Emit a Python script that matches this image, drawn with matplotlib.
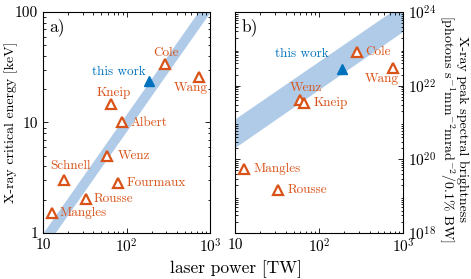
import matplotlib
matplotlib.use("Agg")
import matplotlib.pyplot as plt
from matplotlib.ticker import LogLocator, NullFormatter

plt.rcParams["font.family"] = "serif"
plt.rcParams["font.serif"] = ["cmr10"]
plt.rcParams["mathtext.fontset"] = "cm"
plt.rcParams["axes.formatter.use_mathtext"] = True

ORANGE = "#D95319"
BLUE = "#0072BD"
BAND = "#b0cbe8"

# panel a: critical energy
names_a = ["Cole", "Wang", "Kneip", "Albert", "Wenz", "Schnell", "Fourmaux", "Rousse", "Mangles"]
power_a = [289, 745, 66, 88, 59, 17.8, 79, 32.7, 12.7]
energy_a = [33.6, 25.6, 14.8, 10.0, 5.0, 3.0, 2.85, 2.03, 1.53]
this_power_a = 186
this_energy_a = 23.8
band_power = [10, 1000]
band_a_low = [0.70, 100]
band_a_high = [1.0, 143]

# panel b: peak brightness
names_b = ["Cole", "Wang", "Wenz", "Kneip", "Mangles", "Rousse"]
power_b = [285, 751, 58.7, 66.7, 12.8, 32.9]
bright_b = [8.3e22, 3.0e22, 4.2e21, 3.4e21, 5.5e19, 1.5e19]
this_power_b = 188
this_bright_b = 2.9e22
band_b_low = [2.1e20, 3.0e23]
band_b_high = [1.26e21, 1.7e24]

# label offsets in pixels (dx, dy, ha)
offsets_a = {
    "Cole": (1, 11, "center"),
    "Wang": (-9, -11, "center"),
    "Kneip": (2, 11, "center"),
    "Albert": (9, 0, "left"),
    "Wenz": (10, 0, "left"),
    "Schnell": (7, 14, "center"),
    "Fourmaux": (9, 0, "left"),
    "Rousse": (8, 0, "left"),
    "Mangles": (8, 0, "left"),
}
offsets_b = {
    "Cole": (8, 0, "left"),
    "Wang": (-11, -11, "center"),
    "Wenz": (6, 12, "center"),
    "Kneip": (9, 0, "left"),
    "Mangles": (9, 0, "left"),
    "Rousse": (9, 0, "left"),
}

fig = plt.figure(figsize=(4.71, 2.79), dpi=100)
ax_a = fig.add_axes([0.0913, 0.165, 0.3546, 0.792])
ax_b = fig.add_axes([0.499, 0.165, 0.3567, 0.792])


def style(ax):
    ax.set_xscale("log")
    ax.set_yscale("log")
    ax.set_xlim(10, 1000)
    ax.set_xticks([10, 100, 1000])
    ax.set_xticklabels(["10", "$10^2$", "$10^3$"])
    ax.xaxis.set_minor_locator(LogLocator(base=10, subs=range(2, 10)))
    ax.xaxis.set_minor_formatter(NullFormatter())
    ax.yaxis.set_minor_locator(LogLocator(base=10, subs=range(2, 10), numticks=20))
    ax.yaxis.set_minor_formatter(NullFormatter())
    ax.tick_params(which="both", direction="in", top=True, right=True, labelsize=11, width=0.6)
    ax.tick_params(which="major", length=3.5)
    ax.tick_params(which="minor", length=1.8)
    for spine in ax.spines.values():
        spine.set_linewidth(0.8)


def draw_points(ax, names, xs, ys, offsets):
    ax.plot(xs, ys, linestyle="none", marker="^", markersize=6.5, markerfacecolor="white",
            markeredgecolor=ORANGE, markeredgewidth=1.6, zorder=3)
    for name, x, y in zip(names, xs, ys):
        dx, dy, ha = offsets[name]
        ax.annotate(name, (x, y), xytext=(dx, dy), textcoords="offset pixels",
                    ha=ha, va="center", color=ORANGE, fontsize=9.5)


# panel a
style(ax_a)
ax_a.set_ylim(1, 100)
ax_a.set_yticks([1, 10, 100])
ax_a.set_yticklabels(["1", "10", "100"])
ax_a.fill_between(band_power, band_a_low, band_a_high, color=BAND, linewidth=0, zorder=1)
draw_points(ax_a, names_a, power_a, energy_a, offsets_a)
ax_a.plot([this_power_a], [this_energy_a], linestyle="none", marker="^", markersize=7,
          color=BLUE, zorder=4)
ax_a.annotate("this work", (this_power_a, this_energy_a), xytext=(-3, 9),
              textcoords="offset pixels", ha="right", va="center", color=BLUE, fontsize=9.5)
ax_a.text(0.04, 0.93, "a)", transform=ax_a.transAxes, fontsize=12.5, va="center")
ax_a.set_ylabel("X-ray critical energy [keV]", fontsize=10, va="center")
ax_a.yaxis.set_label_coords(-0.19, 0.5)

# panel b
style(ax_b)
ax_b.set_ylim(1e18, 1e24)
ax_b.set_yticks([1e18, 1e20, 1e22, 1e24])
ax_b.set_yticklabels(["$10^{18}$", "$10^{20}$", "$10^{22}$", "$10^{24}$"])
ax_b.yaxis.tick_right()
ax_b.tick_params(which="both", left=True, right=True, labelleft=False, labelright=True)
ax_b.fill_between(band_power, band_b_low, band_b_high, color=BAND, linewidth=0, zorder=1)
draw_points(ax_b, names_b, power_b, bright_b, offsets_b)
ax_b.plot([this_power_b], [this_bright_b], linestyle="none", marker="^", markersize=7,
          color=BLUE, zorder=4)
ax_b.annotate("this work", (this_power_b, this_bright_b), xytext=(-13, 15),
              textcoords="offset pixels", ha="right", va="center", color=BLUE, fontsize=9.5)
ax_b.text(0.04, 0.93, "b)", transform=ax_b.transAxes, fontsize=12.5, va="center")
ax_b.yaxis.set_label_position("right")
ax_b.set_ylabel("X-ray peak spectral brightness\n"
                "[photons s$^{-1}$mm$^{-2}$mrad$^{-2}$/0.1% BW]",
                fontsize=10, rotation=270, linespacing=1.0, va="center")
ax_b.yaxis.set_label_coords(1.295, 0.47)

fig.text(0.50, 0.035, "laser power [TW]", ha="center", va="center", fontsize=12.5)

fig.savefig("out.png", dpi=100)
